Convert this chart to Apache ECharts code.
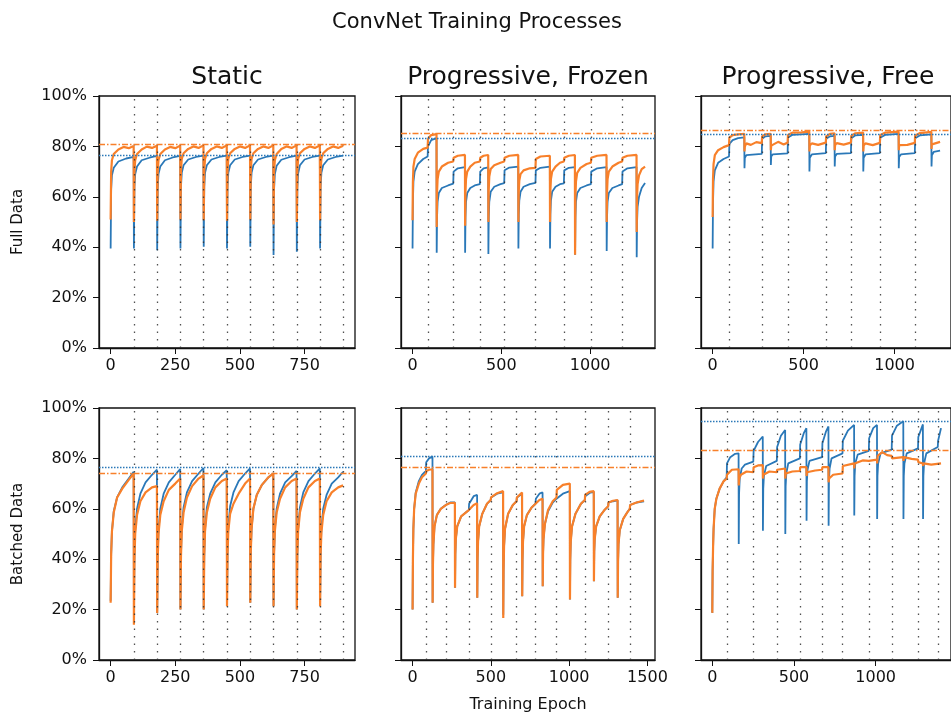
<!DOCTYPE html>
<html>
<head>
<meta charset="utf-8">
<title>ConvNet Training Processes</title>
<script src="https://cdn.jsdelivr.net/npm/echarts@6/dist/echarts.min.js"></script>
<style>
  html, body { margin: 0; padding: 0; background: #fff; }
  #chart { width: 951px; height: 719px; }
</style>
</head>
<body>
<div id="chart"></div>
<script>
// ---- data (accuracy in %, x in training epochs) ----
const panelTitles = ["Static", "Progressive, Frozen", "Progressive, Free"];
const rowLabels = ["Full Data", "Batched Data"];
const yTicks = [0, 20, 40, 60, 80, 100];
const staticTicks = [0, 250, 500, 750];
const frozenFullTicks = [0, 500, 1000];
const freeFullTicks = [0, 500, 1000];
const frozenBatchTicks = [0, 500, 1000, 1500];
const freeBatchTicks = [0, 500, 1000];

// task boundaries (vertical dotted lines)
const staticFullV = [90, 180, 270, 360, 450, 540, 630, 720, 810, 900];
const frozenFullV = [86, 230, 380, 517, 693, 853, 1005, 1181];
const freeFullV = [91, 271, 413, 623, 761, 920, 1112];
const staticBatchV = [90, 180, 270, 360, 450, 540, 630, 720, 810, 900];
const frozenBatchV = [86, 213, 360, 500, 665, 786, 920, 1101, 1250, 1388];
const freeBatchV = [89, 252, 396, 537, 673, 798, 959, 1099, 1260, 1381];

// best accuracy lines, one per panel
const bestBlue = [76.3, 83.3, 85.0, 76.3, 80.9, 94.9];
const bestOrange = [80.9, 85.2, 86.6, 74.0, 76.3, 83.3];

const staticFullBlue = [
  [0,39.5],[2,63],[5,68.5],[12,71.5],[30,74],[60,75.2],[89,75.8],
  [90,39.5],[92,64],[95,69],[102,72],[120,74.5],[150,75.5],[179,76.2],
  [180,38.8],[182,63.5],[185,69],[192,72],[210,74.5],[240,75.6],[269,76.2],
  [270,39.5],[272,64],[275,69.5],[282,72.5],[300,74.8],[330,75.8],[359,76.3],
  [360,40.2],[362,64],[365,69.5],[372,72.5],[390,74.8],[420,75.8],[449,76.3],
  [450,39.5],[452,64],[455,69.5],[462,72.5],[480,74.8],[510,75.8],[539,76.3],
  [540,40.2],[542,64],[545,69.5],[552,72.5],[570,74.8],[600,75.8],[629,76.3],
  [630,36.9],[632,63],[635,69],[642,72.3],[660,74.7],[690,75.7],[719,76.3],
  [720,38.2],[722,63.5],[725,69.2],[732,72.5],[750,74.8],[780,75.8],[809,76.3],
  [810,39.5],[812,64],[815,69.5],[822,72.5],[840,74.8],[870,75.8],[899,76.3]
];
const staticFullOrange = [
  [0,51],[2,70],[5,74.5],[12,77],[30,78.8],[50,79.8],[70,79.3],[89,80.2],
  [90,50],[92,70],[95,74.5],[102,77],[120,78.8],[140,79.9],[160,79.4],[179,80.3],
  [180,50.5],[182,70],[185,74.5],[192,77],[210,78.8],[230,79.8],[250,79.3],[269,80.3],
  [270,51],[272,70.5],[275,75],[282,77.3],[300,79],[320,80],[340,79.4],[359,80.4],
  [360,50.7],[362,70.5],[365,75],[372,77.3],[390,79],[410,80],[430,79.4],[449,80.4],
  [450,50.5],[452,70.5],[455,75],[462,77.3],[480,79],[500,80],[520,79.4],[539,80.4],
  [540,51],[542,70.5],[545,75],[552,77.3],[570,79],[590,80],[610,79.4],[629,80.4],
  [630,49],[632,70],[635,74.5],[642,77],[660,79],[680,80],[700,79.4],[719,80.4],
  [720,50],[722,70.5],[725,75],[732,77.3],[750,79],[770,80],[790,79.4],[809,80.4],
  [810,50.7],[812,70.5],[815,75],[822,77.3],[840,79],[860,80],[880,79.4],[899,80.3]
];

const frozenFullBlue = [
  [0,39.5],[2,58],[5,66],[12,70],[30,73],[60,75],[85,76],[87,80],[105,82.5],[135,83.3],
  [136,37.8],[138,52],[141,58],[148,61.5],[165,63.5],[200,64.5],[229,65.2],[231,70],[255,71.3],[295,71.8],
  [296,37.8],[298,52],[301,58],[308,61.5],[325,63.5],[350,64.5],[379,65],[381,70],[400,71.3],[426,71.7],
  [427,37.3],[429,52],[432,58],[440,62],[460,64],[495,65],[516,65.4],[518,70.5],[545,71.6],[595,72],
  [596,39.5],[598,53],[601,58.5],[608,62],[625,64],[660,65],[692,65.5],[694,70.5],[720,71.5],[773,72],
  [774,39.5],[776,53],[779,58.5],[786,62],[805,64],[830,65],[852,65.3],[854,70.5],[880,71.5],[914,71.8],
  [915,37],[917,52],[920,58],[927,61.5],[945,63.5],[980,64.5],[1004,65],[1006,70],[1040,71.3],[1092,71.8],
  [1093,38.5],[1095,52],[1098,58],[1105,61.5],[1125,63.5],[1160,64.5],[1180,65],[1182,70],[1210,71.3],[1261,71.8],
  [1262,36],[1264,50],[1267,56],[1275,60],[1290,63.5],[1309,65.5]
];
const frozenFullOrange = [
  [0,50.7],[2,66],[5,72],[12,75],[30,77.5],[60,79],[85,79.5],[87,83],[105,84.5],[135,84.9],
  [136,48],[138,62],[141,67],[148,70],[165,72],[200,73.5],[229,74],[231,75.5],[255,76.3],[295,76.6],
  [296,48.5],[298,62],[301,67],[308,70],[325,72],[350,73.5],[379,74],[381,75.5],[400,76.3],[426,76.6],
  [427,50],[429,63],[432,68],[440,71],[460,72.5],[495,73.5],[516,74],[518,75.5],[545,76.3],[595,76.6],
  [596,50],[598,62],[601,66.5],[608,69],[625,70.5],[660,71.3],[692,71.5],[694,75],[720,76],[773,76.3],
  [774,50],[776,62.5],[779,67],[786,70],[805,72],[830,73.5],[852,74],[854,75.5],[880,76.3],[914,76.6],
  [915,37],[917,60],[920,66],[927,69.5],[945,71.5],[980,73],[1004,73.5],[1006,75.5],[1040,76.3],[1092,76.6],
  [1093,50],[1095,62],[1098,67],[1105,70],[1125,72],[1160,73.5],[1180,74],[1182,75.5],[1210,76.3],[1261,76.6],
  [1262,46],[1264,60],[1267,65],[1275,68.5],[1290,71],[1309,72]
];

const freeFullBlue = [
  [0,39.5],[2,58],[5,66],[12,70.5],[30,73.5],[60,75],[90,76],[92,81],[110,82.5],[140,83.3],[174,83.6],
  [175,71.3],[177,75.5],[185,76.5],[270,77],[272,83],[290,84],[319,84.2],
  [320,72.6],[322,76],[330,76.8],[412,77.2],[414,83.5],[440,84.6],[531,85],
  [532,70],[534,75.5],[545,76.8],[622,77.3],[624,83],[645,84],[670,84.2],
  [671,72],[673,76],[682,77],[760,77.3],[762,83.2],[785,84.4],[827,84.6],
  [828,70],[830,75.5],[840,76.8],[919,77.3],[921,83.5],[950,84.6],[1022,85],
  [1023,71.3],[1025,75.8],[1035,76.8],[1111,77.3],[1113,83.2],[1140,84.4],[1202,84.8],
  [1203,72],[1205,76.5],[1215,77.8],[1250,78.3]
];
const freeFullOrange = [
  [0,52],[2,67],[5,73],[12,76.5],[30,78.5],[60,79.7],[90,80.5],[92,83.5],[110,84.5],[140,84.8],[174,85],
  [175,78],[177,80],[185,81.2],[210,80.6],[240,81.7],[270,81.3],[272,84],[290,84.8],[319,85],
  [320,78.5],[322,80.3],[330,81],[360,81.8],[390,80.8],[412,81.5],[414,84.5],[440,85.5],[490,85.6],[531,85.9],
  [532,78],[534,80.3],[545,81.2],[580,80.6],[622,81.5],[624,84],[645,85],[670,85.2],
  [671,78.5],[673,80.5],[682,81.3],[720,80.7],[760,81.5],[762,84.2],[785,85.2],[827,85.5],
  [828,78],[830,80.3],[840,81.2],[880,80.5],[919,81.4],[921,84.5],[950,85.5],[1022,85.9],
  [1023,78.5],[1025,80.5],[1035,81.2],[1070,80.6],[1111,81.4],[1113,84.3],[1140,85.3],[1202,85.8],
  [1203,79],[1205,80.8],[1215,81.5],[1250,81.8]
];

const staticBatchBlue = [
  [0,23.5],[2,42],[5,51],[12,59],[25,64.5],[45,68.5],[70,72],[89,74.7],
  [90,20],[92,42],[95,52],[102,60],[115,66],[135,70.5],[160,73.5],[179,75.5],
  [180,18.7],[182,41],[185,51],[192,60],[205,66],[225,70.5],[250,73.5],[269,75.8],
  [270,20],[272,42],[275,52],[282,60.5],[295,66.5],[315,71],[340,74],[359,76.2],
  [360,20],[362,42],[365,52],[372,60.5],[385,66],[405,70.5],[430,73.5],[449,75.3],
  [450,21.3],[452,43],[455,52.5],[462,61],[475,66.5],[495,71],[520,74],[539,76],
  [540,22.7],[542,43],[545,52],[552,60],[565,65.5],[585,69.5],[610,72.5],[629,74],
  [630,21.3],[632,42.5],[635,52],[642,60],[655,66],[675,70.5],[700,73],[719,75],
  [720,20],[722,42],[725,52],[732,60.5],[745,66.5],[765,71],[790,74],[809,76],
  [810,21.3],[812,42.5],[815,52],[822,60],[835,65.5],[855,70],[880,72.5],[899,74.7]
];
const staticBatchOrange = [
  [0,22.7],[2,42],[5,51],[12,58.5],[25,64.5],[45,68],[70,71.5],[89,74],
  [90,14],[92,39],[95,50],[102,57.5],[115,63],[135,66.5],[160,68.5],[179,69],
  [180,18.7],[182,40],[185,50],[192,57.5],[205,63],[225,67.5],[250,70],[269,72],
  [270,20],[272,41],[275,51],[282,58.5],[295,64.5],[315,69],[340,72],[359,73.3],
  [360,20],[362,41],[365,51],[372,58.5],[385,64],[405,68.5],[430,71],[449,72],
  [450,21.3],[452,41.5],[455,51],[462,58],[475,62],[495,66],[520,70],[539,72],
  [540,22.7],[542,43],[545,52],[552,60],[565,65.5],[585,69.5],[610,72.5],[629,74],
  [630,21.3],[632,42],[635,51],[642,58.5],[655,64],[675,68.5],[700,71],[719,72],
  [720,20],[722,41.5],[725,51],[732,58.5],[745,64],[765,68.5],[790,71],[809,72],
  [810,21.3],[812,41.5],[815,50.5],[822,57.5],[835,63],[855,66.5],[880,68.5],[899,69.3]
];

const frozenBatchBlue = [
  [0,20],[2,40],[5,52],[10,60],[20,66.5],[40,71],[60,73.5],[85,75],[87,78.5],[105,80],[127,80.8],
  [128,22.7],[130,38],[133,46],[140,53],[155,57.5],[180,60],[212,61.5],[214,62],[240,62.5],[270,62.5],
  [271,28.7],[273,42],[276,48],[285,53],[310,57],[359,59.5],[361,62],[390,65],[412,65.5],
  [413,24.7],[415,40],[418,47],[425,53],[445,58],[475,62],[499,63.5],[501,64.5],[540,66],[578,66.5],
  [579,18],[581,36],[584,45],[590,52],[610,58],[640,61.5],[664,63],[666,64.5],[699,66],
  [700,25.3],[702,40],[705,47],[712,53],[730,57.5],[760,60.5],[785,62],[787,64],[810,66],[830,66.5],
  [831,29.3],[833,42],[836,48],[845,54],[865,59],[895,62.5],[919,64],[921,64.5],[960,66],[1004,67],
  [1005,24],[1007,40],[1010,47],[1018,53],[1040,58],[1075,62],[1100,63.5],[1102,65],[1130,66.3],[1157,66.7],
  [1158,31.3],[1160,43],[1163,48],[1172,53],[1195,57],[1225,59.5],[1249,61],[1251,62.5],[1280,63],[1309,63.3],
  [1310,24.7],[1312,39],[1315,46],[1323,51.5],[1345,56],[1370,58.5],[1387,60],[1389,61.5],[1430,62.5],[1478,63]
];
const frozenBatchOrange = [
  [0,20],[2,40],[5,52],[10,60],[20,66],[40,70],[60,72.5],[85,74],[87,75],[105,75.5],[127,75.7],
  [128,22.7],[130,38],[133,46],[140,53],[155,57.5],[180,60],[212,61.5],[214,62],[240,62.3],[270,62.4],
  [271,28.7],[273,42],[276,48],[285,53],[310,57],[359,59.5],[361,60],[390,61.5],[412,62.2],
  [413,24.7],[415,40],[418,47],[425,53],[445,58],[475,62],[499,63.5],[501,64.5],[540,66.2],[578,67],
  [579,16.7],[581,35],[584,45],[590,52],[610,58],[640,61.5],[664,63],[666,64.5],[699,66.5],
  [700,25.3],[702,40],[705,47],[712,53],[730,57.5],[760,60.5],[785,62],[787,62.5],[810,63.5],[830,64],
  [831,29.3],[833,42],[836,48],[845,54],[865,59.5],[895,63],[919,64.5],[921,67.5],[960,69.5],[1004,70],
  [1005,24],[1007,40],[1010,47],[1018,53],[1040,58],[1075,62],[1100,63.5],[1102,65.5],[1130,66.7],[1157,67],
  [1158,31.3],[1160,43],[1163,48],[1172,53],[1195,57],[1225,59.5],[1249,61],[1251,62.5],[1280,63.2],[1309,63.5],
  [1310,24.7],[1312,39],[1315,46],[1323,51.5],[1345,56],[1370,58.5],[1387,60],[1389,61.5],[1430,62.5],[1478,63.3]
];

const freeBatchBlue = [
  [0,18.7],[2,35],[5,45],[8,52],[15,60],[25,64],[45,68],[70,71],[88,72.5],[90,78],[110,80.5],[140,81.8],[161,82],
  [162,46],[164,66],[168,72],[180,76],[200,77.5],[251,78.7],[253,83],[280,86.5],[309,88.7],
  [310,51.3],[312,68],[316,73],[330,77],[395,79],[397,84.5],[420,89],[446,91.3],
  [447,50],[449,69],[453,74],[465,78],[536,80],[538,85.5],[560,90],[576,92],
  [577,55.3],[579,71],[583,75.5],[595,79],[672,80.5],[674,86],[695,90.5],[711,92.7],
  [712,53.3],[714,71],[718,76],[730,80],[797,82],[799,87],[830,91],[868,93.3],
  [869,57.3],[871,73],[875,78],[890,81.5],[958,83],[960,88],[985,92],[1008,93.3],
  [1009,56],[1011,73],[1015,78],[1030,82],[1098,83.5],[1100,89],[1130,93],[1169,94.7],
  [1170,56],[1172,73],[1176,78],[1190,82],[1259,84],[1261,88.5],[1289,93.5],
  [1290,56],[1292,73],[1296,78],[1310,82],[1380,84.5],[1382,87],[1400,92]
];
const freeBatchOrange = [
  [0,18.7],[2,35],[5,45],[8,52],[15,60],[25,64],[45,68],[70,71],[88,72],[90,73.5],[120,75.5],[161,75.7],
  [162,69.3],[165,72],[175,73.5],[210,74.8],[251,74.5],[253,76.5],[280,77.2],[309,77.3],
  [310,72],[313,73.5],[350,74.8],[395,74.5],[397,75.5],[446,76],
  [447,72],[450,74],[490,74.8],[536,75],[538,76.5],[576,76.5],
  [577,73],[580,74.5],[630,75.2],[672,75.5],[674,76.5],[711,76.5],
  [712,70.5],[715,72],[740,73.5],[797,74],[799,77],[868,78],
  [869,76],[872,78],[920,79.2],[958,79],[960,79.5],[1008,79.5],
  [1009,78],[1012,81],[1040,82.5],[1070,81.3],[1098,81],[1100,80],[1169,80.5],
  [1170,79],[1173,80.5],[1220,79.8],[1259,79.5],[1261,78.5],[1289,78],
  [1290,77],[1293,78],[1340,77.5],[1400,78]
];

// ---- layout ----
const BLUE = "#2a78b8";
const ORANGE = "#f8802a";
const FONT = "DejaVu Sans";

const panels = [
  { left: 99, top: 96, width: 256, xMin: -45, xMax: 945, ticks: staticTicks, blue: staticFullBlue, orange: staticFullOrange, vLines: staticFullV },
  { left: 401, top: 96, width: 254, xMin: -65, xMax: 1365, ticks: frozenFullTicks, blue: frozenFullBlue, orange: frozenFullOrange, vLines: frozenFullV },
  { left: 701, top: 96, width: 254, xMin: -64, xMax: 1310, ticks: freeFullTicks, blue: freeFullBlue, orange: freeFullOrange, vLines: freeFullV },
  { left: 99, top: 408, width: 256, xMin: -45, xMax: 945, ticks: staticTicks, blue: staticBatchBlue, orange: staticBatchOrange, vLines: staticBatchV },
  { left: 401, top: 408, width: 254, xMin: -74, xMax: 1548, ticks: frozenBatchTicks, blue: frozenBatchBlue, orange: frozenBatchOrange, vLines: frozenBatchV },
  { left: 701, top: 408, width: 254, xMin: -69, xMax: 1461, ticks: freeBatchTicks, blue: freeBatchBlue, orange: freeBatchOrange, vLines: freeBatchV }
];
const PH = 252;

function textEl(text, x, y, size, rot) {
  return {
    type: "text", x: x, y: y, rotation: rot || 0, silent: true,
    style: {
      text: text, x: 0, y: 0, fill: "#111",
      font: size + "px " + FONT,
      align: "center", verticalAlign: "middle",
      textAlign: "center", textVerticalAlign: "middle"
    }
  };
}

const chart = echarts.init(document.getElementById("chart"), null, { renderer: "canvas" });

const option = {
  animation: false,
  backgroundColor: "#fff",
  grid: panels.map(p => ({
    left: p.left, top: p.top, width: p.width, height: PH,
    show: true, borderColor: "#111", borderWidth: 1.3, backgroundColor: "transparent"
  })),
  xAxis: panels.map((p, i) => ({
    type: "value", gridIndex: i, min: p.xMin, max: p.xMax,
    splitLine: { show: false },
    axisLine: { show: true, onZero: false, lineStyle: { color: "#111", width: 1.3 } },
    axisTick: { show: true, length: 6, customValues: p.ticks, lineStyle: { color: "#111" } },
    axisLabel: {
      customValues: p.ticks, fontSize: 16, fontFamily: FONT, color: "#111", margin: 10,
      formatter: v => String(v)
    }
  })),
  yAxis: panels.map((p, i) => ({
    type: "value", gridIndex: i, min: 0, max: 100, interval: 20,
    splitLine: { show: false },
    axisLine: { show: true, onZero: false, lineStyle: { color: "#111", width: 1.3 } },
    axisTick: { show: true, length: 6, lineStyle: { color: "#111" } },
    axisLabel: {
      show: i % 3 === 0, fontSize: 16, fontFamily: FONT, color: "#111", margin: 12,
      formatter: "{value}%"
    }
  })),
  series: [],
  graphic: { elements: [] }
};

panels.forEach((p, i) => {
  option.series.push({
    type: "line", xAxisIndex: i, yAxisIndex: i, data: p.blue,
    symbol: "none", showSymbol: false, z: 2,
    lineStyle: { color: BLUE, width: 1.8 }, itemStyle: { color: BLUE },
    markLine: {
      silent: true, symbol: ["none", "none"], label: { show: false }, animation: false,
      lineStyle: { color: "#333", width: 1.3, type: [1.5, 6], opacity: 0.85 },
      data: p.vLines.map(v => ({ xAxis: v })).concat([
        { yAxis: bestBlue[i], lineStyle: { color: BLUE, width: 1.3, type: [1.5, 1.5], opacity: 1 } }
      ])
    }
  });
  option.series.push({
    type: "line", xAxisIndex: i, yAxisIndex: i, data: p.orange,
    symbol: "none", showSymbol: false, z: 3,
    lineStyle: { color: ORANGE, width: 2.2 }, itemStyle: { color: ORANGE },
    markLine: {
      silent: true, symbol: ["none", "none"], label: { show: false }, animation: false,
      data: [{ yAxis: bestOrange[i], lineStyle: { color: ORANGE, width: 1.3, type: [6, 2, 1.5, 2] } }]
    }
  });
});

// titles and axis names
const g = option.graphic.elements;
g.push(textEl("ConvNet Training Processes", 477, 23, 21));
panels.slice(0, 3).forEach((p, i) => g.push(textEl(panelTitles[i], p.left + p.width / 2, 77, 25)));
g.push(textEl(rowLabels[0], 18, 96 + PH / 2, 15, Math.PI / 2));
g.push(textEl(rowLabels[1], 18, 408 + PH / 2, 15, Math.PI / 2));
g.push(textEl("Training Epoch", 528, 705, 16));

chart.setOption(option);
</script>
</body>
</html>
